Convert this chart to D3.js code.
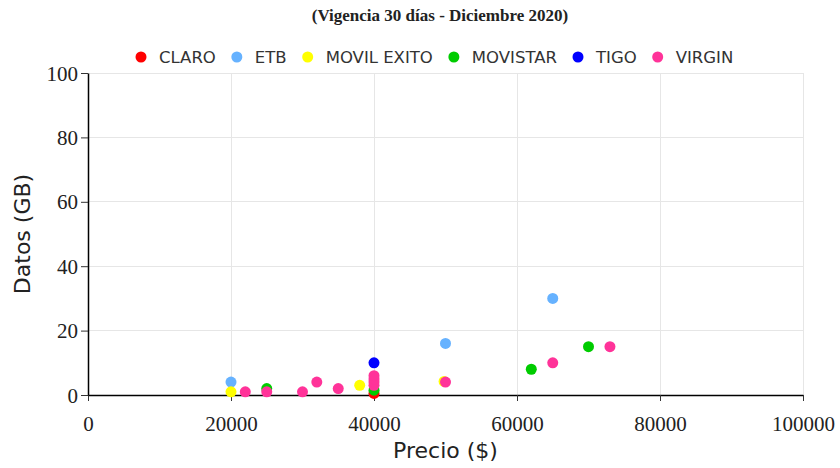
<!DOCTYPE html>
<html><head><meta charset="utf-8">
<script src="https://cdn.jsdelivr.net/npm/d3@7"></script>
<style>body{margin:0;background:#fff;} svg{display:block;}</style>
</head><body>
<svg id="c" width="840" height="468"></svg>
<script>
const title = "(Vigencia 30 días - Diciembre 2020)";
const series = ["CLARO", "ETB", "MOVIL EXITO", "MOVISTAR", "TIGO", "VIRGIN"];
const colors = ["#ff0000", "#66b2ff", "#ffff00", "#00cc00", "#0000ff", "#ff3399"];
const xLabel = "Precio ($)";
const yLabel = "Datos (GB)";
const xTicks = [0, 20000, 40000, 60000, 80000, 100000];
const yTicks = [0, 20, 40, 60, 80, 100];
// points per series: [precio, datos]
const claro = [[40000, 0.5]];
const etb = [[20000, 4], [50000, 16], [65000, 30]];
const movilExito = [[20000, 1], [38000, 3], [49800, 4.2]];
const movistar = [[25000, 2], [40000, 1.5], [62000, 8], [70000, 15]];
const tigo = [[40000, 10]];
const virgin = [[22000, 1], [25000, 1], [30000, 1], [32000, 4], [35000, 2], [40000, 3], [40000, 4], [40000, 5], [40000, 6], [50000, 4], [65000, 10], [73000, 15]];
const data = [claro, etb, movilExito, movistar, tigo, virgin];

const svg = d3.select("#c");
const m = {l: 88, r: 803, t: 73, b: 395};
const x = d3.scaleLinear().domain([0, 100000]).range([m.l, m.r]);
const y = d3.scaleLinear().domain([0, 100]).range([m.b, m.t]);

// grid
svg.append("g").selectAll("line.v").data(xTicks.slice(1)).join("line")
  .attr("x1", d => x(d)).attr("x2", d => x(d)).attr("y1", m.t).attr("y2", m.b)
  .attr("stroke", "#e6e6e6").attr("stroke-width", 1).attr("shape-rendering", "crispEdges");
svg.append("g").selectAll("line.h").data(yTicks.slice(1)).join("line")
  .attr("x1", m.l).attr("x2", m.r).attr("y1", d => y(d)).attr("y2", d => y(d))
  .attr("stroke", "#e6e6e6").attr("stroke-width", 1).attr("shape-rendering", "crispEdges");

// axes
const xa = svg.append("g").attr("transform", `translate(0,${m.b})`)
  .call(d3.axisBottom(x).tickValues(xTicks).tickFormat(d3.format("d")).tickSize(6).tickSizeOuter(0));
const ya = svg.append("g").attr("transform", `translate(${m.l},0)`)
  .call(d3.axisLeft(y).tickValues(yTicks).tickSize(7).tickSizeOuter(0));
[xa, ya].forEach(a => {
  a.select(".domain").attr("stroke", "#000").attr("stroke-width", 1.5);
  a.selectAll(".tick line").attr("stroke", "#333");
  a.selectAll("text").attr("font-family", "'Liberation Serif', serif").attr("font-size", 21).attr("fill", "#222");
});
xa.selectAll("text").attr("dy", 0).attr("y", 36);
ya.selectAll("text").attr("x", -10).attr("dy", "0.34em");

// axis titles
svg.append("text").attr("x", (m.l + m.r) / 2).attr("y", 458).attr("text-anchor", "middle")
  .attr("font-family", "'DejaVu Sans', sans-serif").attr("font-size", 22).attr("fill", "#222").text(xLabel);
svg.append("text").attr("transform", `translate(30,${(m.t + m.b) / 2}) rotate(-90)`).attr("text-anchor", "middle")
  .attr("font-family", "'DejaVu Sans', sans-serif").attr("font-size", 22).attr("fill", "#222").text(yLabel);

// title
svg.append("text").attr("x", 440).attr("y", 21).attr("text-anchor", "middle")
  .attr("font-family", "'Liberation Serif', serif").attr("font-weight", "bold").attr("font-size", 17).attr("fill", "#222").text(title);

// points
data.forEach((pts, i) => {
  svg.append("g").selectAll("circle").data(pts).join("circle")
    .attr("cx", d => x(d[0])).attr("cy", d => y(d[1])).attr("r", 5.5).attr("fill", colors[i]);
});

// legend
const lg = svg.append("g");
let cx = 0;
series.forEach((s, i) => {
  const g = lg.append("g").attr("transform", `translate(${cx},0)`);
  g.append("circle").attr("cx", 0).attr("cy", 0).attr("r", 5.5).attr("fill", colors[i]);
  const t = g.append("text").attr("x", 18).attr("y", 0).attr("dy", "0.36em")
    .attr("font-family", "'DejaVu Sans', sans-serif").attr("font-size", 16.5).attr("fill", "#333").text(s);
  cx += 18 + t.node().getComputedTextLength() + 21;
});
lg.attr("transform", `translate(141,57)`);
</script>
</body></html>
